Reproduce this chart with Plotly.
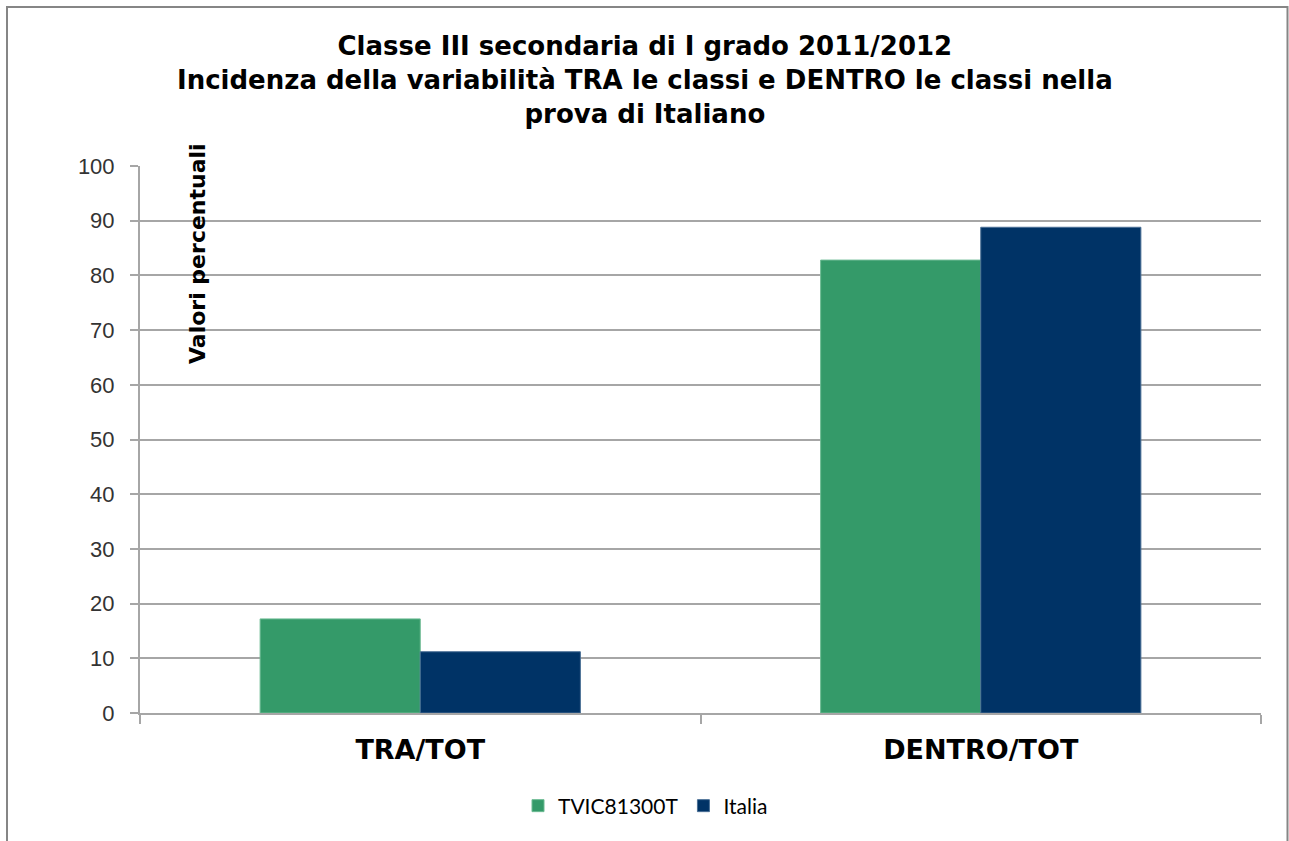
import plotly.graph_objects as go

categories = ["TRA/TOT", "DENTRO/TOT"]
series_names = ["TVIC81300T", "Italia"]
tvic_values = [17.2, 82.8]
italia_values = [11.2, 88.8]
y_ticks = [0, 10, 20, 30, 40, 50, 60, 70, 80, 90, 100]

title_lines = [
    "Classe III secondaria di I grado 2011/2012",
    "Incidenza della variabilità TRA le classi e DENTRO le classi nella",
    "prova di Italiano",
]
y_title = "Valori percentuali"

W, H = 1289, 841
L, R, T, B = 140, 1261, 166, 713
pw, ph = R - L, B - T

def px_x(x):
    return (x - L) / pw

def px_y(y):
    return (B - y) / ph

BOLD = "DejaVu Sans, Liberation Sans, Arial, sans-serif"

fig = go.Figure()
fig.add_trace(go.Bar(x=categories, y=tvic_values, name=series_names[0],
                     marker=dict(color="#349a69", line=dict(color="#6dbb93", width=1))))
fig.add_trace(go.Bar(x=categories, y=italia_values, name=series_names[1],
                     marker=dict(color="#003366", line=dict(color="#4a6f95", width=1))))

fig.update_layout(
    width=W, height=H,
    margin=dict(l=L, r=W - R, t=T, b=H - B, pad=0),
    paper_bgcolor="white", plot_bgcolor="white",
    barmode="group", bargap=0.4286, bargroupgap=0,
    font=dict(family="Liberation Sans, Arial, sans-serif", color="#000000"),
    showlegend=True,
    legend=dict(orientation="h", x=px_x(518), xanchor="left", y=px_y(806), yanchor="middle",
                font=dict(size=21, family="Lato, sans-serif", color="#000000"),
                bgcolor="rgba(0,0,0,0)", itemwidth=30, traceorder="normal"),
    xaxis=dict(type="category", showgrid=False, showline=True, linecolor="#a6a6a6", linewidth=2,
               ticks="outside", tickson="boundaries", ticklen=9, tickcolor="#a6a6a6", tickwidth=2,
               tickfont=dict(size=27, family=BOLD, color="#000000", weight="bold"),
               ticklabelstandoff=12),
    yaxis=dict(range=[0, 100], tickvals=y_ticks, showgrid=True, gridcolor="#a6a6a6", gridwidth=2,
               showline=True, linecolor="#a6a6a6", linewidth=2, zeroline=False,
               ticks="outside", ticklen=8, tickcolor="#a6a6a6", tickwidth=2,
               tickfont=dict(size=22, family="Liberation Sans, Arial, sans-serif", color="#333333"),
               ticklabelstandoff=11),
)

fig.add_annotation(text="<br>".join("<b>" + t + "</b>" for t in title_lines),
                   xref="paper", yref="paper", x=px_x(645), y=px_y(80),
                   xanchor="center", yanchor="middle", showarrow=False, align="center",
                   font=dict(size=26, family=BOLD, color="#000000"))

fig.add_annotation(text="<b>" + y_title + "</b>", textangle=-90,
                   xref="paper", yref="paper", x=px_x(197), y=px_y(254),
                   xanchor="center", yanchor="middle", showarrow=False,
                   font=dict(size=22, family=BOLD, color="#000000"))

fig.add_shape(type="rect", xref="paper", yref="paper",
              x0=px_x(7), x1=px_x(1287.5), y0=px_y(900), y1=px_y(7),
              line=dict(color="#868686", width=2), fillcolor="rgba(0,0,0,0)", layer="below")

fig.write_html("out.html", config={"displayModeBar": False},
               post_script="document.body.style.margin='0';document.body.style.overflow='hidden';")
